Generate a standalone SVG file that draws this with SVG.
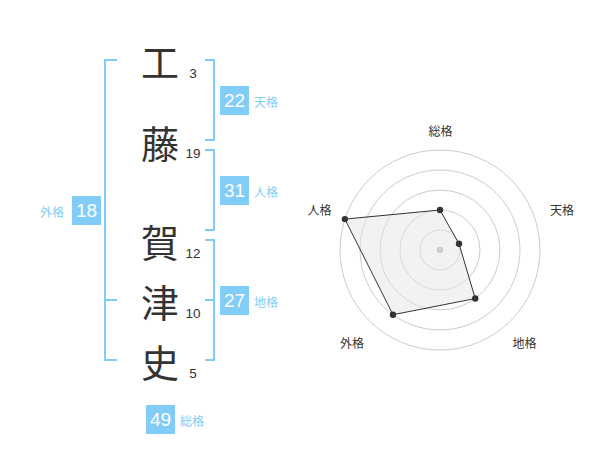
<svg xmlns="http://www.w3.org/2000/svg" width="600" height="470" viewBox="0 0 600 470">
<style>
.kanji{font-family:"Noto Sans CJK JP","Noto Sans CJK SC",sans-serif;font-size:38px;fill:#333;text-anchor:middle;dominant-baseline:central}
.stroke{font-family:"Liberation Sans",Arial,sans-serif;font-size:13.5px;fill:#333;text-anchor:middle}
.br{fill:none;stroke:#82cdf8;stroke-width:2}
.badge{fill:#82cdf8}
.bnum{font-family:"Liberation Sans",Arial,sans-serif;font-size:19px;fill:#fff;text-anchor:middle;dominant-baseline:central}
.blab{font-family:"Noto Sans CJK JP",sans-serif;font-size:12px;fill:#82cdf8;dominant-baseline:central}
.ring{fill:none;stroke:#ccc;stroke-width:1}
.rlab{font-family:"Noto Sans CJK JP",sans-serif;font-size:12px;fill:#333;text-anchor:middle;dominant-baseline:central}
.pt{fill:#333}
</style>
<g id="connectors">
<path class="br" d="M117,60 H105 V360 H117 M105,300 H117"/>
<path class="br" d="M205,60 H214 V140 H205"/>
<path class="br" d="M205,150 H214 V230 H205"/>
<path class="br" d="M205,240 H214 V360 H205 M205,300 H214"/>
</g>
<g id="char-1"><text class="kanji" x="160" y="60">工</text><text class="stroke" x="193" y="78">3</text></g>
<g id="char-2"><text class="kanji" x="160" y="141">藤</text><text class="stroke" x="193" y="158">19</text></g>
<g id="char-3"><text class="kanji" x="160" y="240">賀</text><text class="stroke" x="193" y="258">12</text></g>
<g id="char-4"><text class="kanji" x="160" y="300">津</text><text class="stroke" x="193" y="318">10</text></g>
<g id="char-5"><text class="kanji" x="160" y="360">史</text><text class="stroke" x="193" y="378">5</text></g>
<g id="tenkaku"><rect class="badge" x="220" y="86" width="29" height="29"/><text class="bnum" x="234.5" y="100.5">22</text><text class="blab" x="254" y="101">天格</text></g>
<g id="jinkaku"><rect class="badge" x="220" y="176" width="29" height="29"/><text class="bnum" x="234.5" y="190.5">31</text><text class="blab" x="254" y="191">人格</text></g>
<g id="chikaku"><rect class="badge" x="220" y="286" width="29" height="29"/><text class="bnum" x="234.5" y="300.5">27</text><text class="blab" x="254" y="301">地格</text></g>
<g id="gaikaku"><rect class="badge" x="72" y="196" width="29" height="29"/><text class="bnum" x="86.5" y="210.5">18</text><text class="blab" x="40" y="211">外格</text></g>
<g id="soukaku"><rect class="badge" x="146" y="405" width="29" height="29"/><text class="bnum" x="160.5" y="419.5">49</text><text class="blab" x="180" y="420">総格</text></g>
<g id="radar">
<circle class="ring" cx="440" cy="250" r="20"/>
<circle class="ring" cx="440" cy="250" r="40"/>
<circle class="ring" cx="440" cy="250" r="60"/>
<circle class="ring" cx="440" cy="250" r="80"/>
<circle class="ring" cx="440" cy="250" r="100"/>
<polygon points="440,210 459.02,243.82 475.27,298.54 392.98,314.72 344.89,219.1" fill="#e6e6e6" fill-opacity="0.5" stroke="#333" stroke-width="1"/>
<circle cx="440" cy="250" r="3.3" fill="#ccc"/>
<circle class="pt" cx="440" cy="210" r="3.2"/>
<circle class="pt" cx="459.02" cy="243.82" r="3.2"/>
<circle class="pt" cx="475.27" cy="298.54" r="3.2"/>
<circle class="pt" cx="392.98" cy="314.72" r="3.2"/>
<circle class="pt" cx="344.89" cy="219.1" r="3.2"/>
<text class="rlab" x="440.5" y="130">総格</text>
<text class="rlab" x="562" y="209">天格</text>
<text class="rlab" x="524.5" y="342">地格</text>
<text class="rlab" x="352" y="342">外格</text>
<text class="rlab" x="319.5" y="209">人格</text>
</g>
</svg>
